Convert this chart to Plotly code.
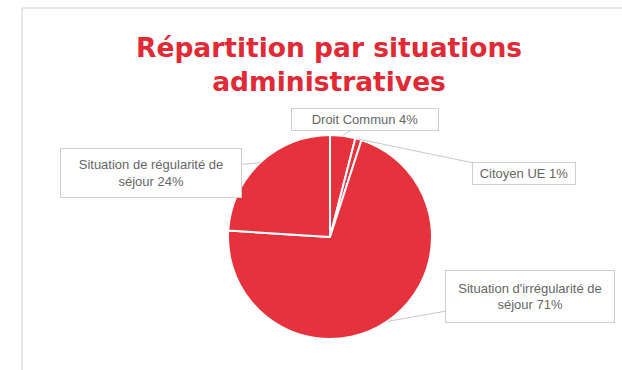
import math
import plotly.graph_objects as go

# ---- data ----
categories = ["Droit Commun", "Citoyen UE",
              "Situation d'irrégularité de séjour",
              "Situation de régularité de séjour"]
label_text = ["Droit Commun", "Citoyen UE",
              "Situation d'irrégularité de<br>séjour",
              "Situation de régularité de<br>séjour"]
values = [4, 1, 71, 24]
title_text = "Répartition par situations<br>administratives"

W, H = 622, 370
RED = "#e5323d"

# pie placement (pixels)
cx, cy, r = 330, 237, 102
dom_x = [(cx - r) / W, (cx + r) / W]
dom_y = [(H - cy - r) / H, (H - cy + r) / H]

fig = go.Figure(go.Pie(
    labels=categories, values=values, sort=False,
    direction="clockwise", rotation=0,
    marker=dict(colors=[RED] * len(values), line=dict(color="white", width=2)),
    textinfo="none", hoverinfo="label+percent",
    domain=dict(x=dom_x, y=dom_y), showlegend=False,
))

# label boxes: center (px), width, height
boxes = [
    (365, 119.5, 146, 21),
    (524, 173.5, 102, 21),
    (530, 296.5, 168, 51),
    (151, 173, 180, 48),
]

total = sum(values)
cum = 0
annotations = []
for name, v, (bx, by, bw, bh) in zip(label_text, values, boxes):
    mid = (cum + v / 2) / total * 2 * math.pi
    cum += v
    tx = cx + r * math.sin(mid)
    ty = cy - r * math.cos(mid)
    pct = round(v / total * 100)
    annotations.append(dict(
        x=tx / W, y=1 - ty / H, xref="paper", yref="paper",
        ax=bx - tx, ay=by - ty, axref="pixel", ayref="pixel",
        showarrow=True, arrowhead=0, arrowwidth=1, arrowcolor="#c8c8c8",
        standoff=0, startstandoff=0,
        text=f"{name} {pct}%", width=bw, height=bh, align="center",
        font=dict(family="Liberation Sans, Arial", size=13, color="#666666"),
        bordercolor="#cfcfcf", borderwidth=1, borderpad=0, bgcolor="white",
    ))

annotations.append(dict(
    text=f"<b>{title_text}</b>", x=329 / W, y=1 - 30 / H,
    xref="paper", yref="paper", xanchor="center", yanchor="top",
    showarrow=False, align="center",
    font=dict(family="DejaVu Sans", size=26.5, color="#e02a36"),
))

fig.update_layout(
    width=W, height=H, margin=dict(l=0, r=0, t=0, b=0),
    paper_bgcolor="white", plot_bgcolor="white",
    annotations=annotations,
    shapes=[
        dict(type="line", xref="paper", yref="paper",
             x0=22 / W, x1=22 / W, y0=-0.05, y1=1 - 8 / H,
             line=dict(color="#dedede", width=1.5)),
        dict(type="line", xref="paper", yref="paper",
             x0=22 / W, x1=1.05, y0=1 - 8 / H, y1=1 - 8 / H,
             line=dict(color="#dedede", width=1.5)),
    ],
)

fig.write_html("out.html")
